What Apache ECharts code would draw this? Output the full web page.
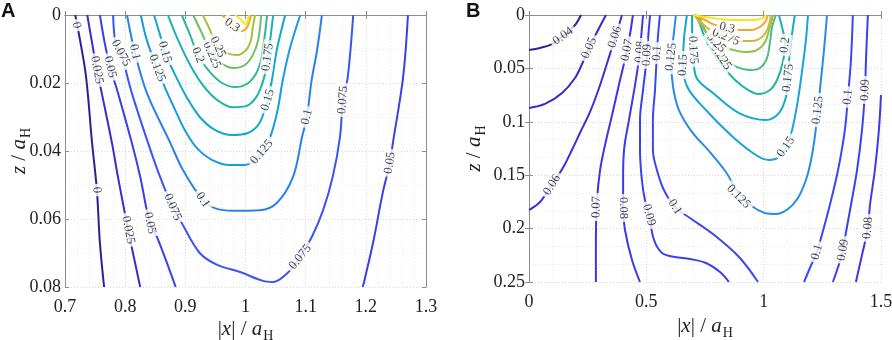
<!DOCTYPE html>
<html>
<head>
<meta charset="utf-8">
<script src="https://cdn.jsdelivr.net/npm/echarts@6/dist/echarts.min.js"></script>
<style>
  html, body { margin: 0; padding: 0; background: #fff; }
  #chart { width: 892px; height: 340px; }
</style>
</head>
<body>
<div id="chart"></div>
<script>
// ---- panel A contour lines, points are [|x|/aH, z/aH] ----
const a000 = [[0.717,0],[0.725,0.0074],[0.735,0.0182],[0.745,0.0376],[0.753,0.0515],[0.758,0.067],[0.765,0.08]];
const a025 = [[0.737,0],[0.745,0.0082],[0.753,0.0162],[0.761,0.0229],[0.778,0.0376],[0.788,0.0476],[0.805,0.0632],[0.825,0.08]];
const a050L = [[0.758,0],[0.766,0.0082],[0.775,0.0153],[0.788,0.0229],[0.811,0.0376],[0.825,0.0476],[0.841,0.0612],[0.853,0.0653],[0.884,0.08]];
const a050R = [[1.270,0],[1.262,0.0182],[1.245,0.0376],[1.240,0.0435],[1.228,0.0524],[1.212,0.067],[1.195,0.08]];
const a075 = [[0.780,0],[0.784,0.0082],[0.793,0.0112],[0.811,0.0229],[0.838,0.0376],[0.858,0.0476],[0.879,0.0565],[0.894,0.0612],[0.924,0.070],[0.953,0.0735],[0.991,0.0756],[1.029,0.0782],[1.046,0.0785],[1.069,0.076],[1.091,0.0712],[1.111,0.065],[1.129,0.0574],[1.145,0.0476],[1.157,0.0359],[1.162,0.025],[1.170,0.0182],[1.179,0]];
const a100 = [[0.803,0],[0.816,0.0109],[0.836,0.0229],[0.875,0.0376],[0.896,0.0456],[0.929,0.0544],[0.949,0.0568],[0.979,0.0576],[1.024,0.0574],[1.052,0.0553],[1.079,0.0476],[1.094,0.0359],[1.102,0.030],[1.110,0.0191],[1.119,0.0103],[1.127,0]];
const a125 = [[0.826,0],[0.836,0.0074],[0.853,0.0156],[0.868,0.0221],[0.883,0.0279],[0.899,0.0338],[0.919,0.0391],[0.944,0.0426],[0.974,0.0441],[0.999,0.0441],[1.016,0.0426],[1.027,0.0403],[1.037,0.0376],[1.046,0.0332],[1.054,0.0274],[1.062,0.0191],[1.074,0.0097],[1.091,0]];
const a150 = [[0.848,0],[0.858,0.0059],[0.866,0.0109],[0.883,0.0176],[0.903,0.0244],[0.924,0.030],[0.949,0.0338],[0.978,0.0353],[1.004,0.0347],[1.021,0.0324],[1.031,0.0285],[1.037,0.025],[1.044,0.0191],[1.052,0.0103],[1.066,0]];
const a175 = [[0.871,0],[0.888,0.0074],[0.908,0.0147],[0.929,0.0206],[0.953,0.025],[0.978,0.0271],[1.001,0.0268],[1.017,0.0244],[1.027,0.0206],[1.034,0.0162],[1.037,0.0124],[1.041,0.0074],[1.046,0]];
const a200 = [[0.894,0],[0.908,0.0059],[0.921,0.0118],[0.941,0.0168],[0.961,0.020],[0.983,0.0212],[1.002,0.0203],[1.017,0.0174],[1.026,0.0132],[1.031,0.0074],[1.036,0]];
const a225 = [[0.913,0],[0.929,0.0059],[0.944,0.0118],[0.961,0.0144],[0.979,0.0156],[0.999,0.0147],[1.012,0.0118],[1.021,0.0074],[1.026,0]];
const a250 = [[0.929,0],[0.941,0.0044],[0.954,0.0094],[0.969,0.0112],[0.986,0.0118],[1.001,0.0103],[1.009,0.0074],[1.012,0.0038],[1.016,0]];
const a300 = [[0.961,0],[0.978,0.0026],[0.994,0.0047],[1.002,0.0038],[1.007,0.0015],[1.009,0]];
const a325 = [[0.983,0],[0.993,0.0015],[1.001,0.0029],[1.004,0.0015],[1.006,0]];

// ---- panel B contour lines ----
const b040 = [[0,0.0328],[0.047,0.0309],[0.098,0.0272],[0.145,0.0197],[0.196,0.0094],[0.222,0]];
const b050 = [[0,0.0871],[0.068,0.0833],[0.141,0.073],[0.196,0.059],[0.230,0.044],[0.256,0.0309],[0.290,0.0159],[0.328,0]];
const b060 = [[0.396,0],[0.371,0.0187],[0.337,0.0421],[0.303,0.0655],[0.260,0.0908],[0.217,0.1105],[0.183,0.1264],[0.149,0.1414],[0.098,0.1592],[0.047,0.1751],[0,0.1826]];
const b070 = [[0.443,0],[0.430,0.0187],[0.418,0.0328],[0.388,0.0609],[0.354,0.0936],[0.324,0.1217],[0.303,0.1451],[0.290,0.1732],[0.285,0.2107],[0.285,0.25]];
const b080L = [[0.486,0],[0.477,0.0234],[0.473,0.0346],[0.452,0.0655],[0.426,0.0983],[0.405,0.1264],[0.401,0.1545],[0.401,0.1807],[0.409,0.2013],[0.439,0.2294],[0.473,0.25]];
const b080R = [[1.5,0.0749],[1.491,0.1077],[1.474,0.1451],[1.453,0.1779],[1.444,0.1994],[1.419,0.2247],[1.393,0.25]];
const b090L = [[0.516,0],[0.507,0.0234],[0.503,0.0375],[0.486,0.0702],[0.473,0.0983],[0.473,0.1264],[0.481,0.1545],[0.494,0.1732],[0.511,0.1873],[0.533,0.2107],[0.567,0.2228],[0.622,0.2266],[0.686,0.2285],[0.754,0.2322],[0.814,0.2407],[0.852,0.25]];
const b090R = [[1.444,0],[1.436,0.0421],[1.432,0.0702],[1.419,0.1077],[1.398,0.1451],[1.372,0.1779],[1.351,0.2032],[1.338,0.22],[1.317,0.236],[1.295,0.25]];
const b100L = [[0.558,0],[0.550,0.0187],[0.545,0.0356],[0.537,0.0702],[0.528,0.0983],[0.528,0.1264],[0.545,0.1451],[0.575,0.1639],[0.622,0.1798],[0.686,0.1901],[0.784,0.2051],[0.895,0.2266],[0.976,0.25]];
const b100R = [[1.380,0],[1.372,0.0421],[1.359,0.0768],[1.346,0.1077],[1.317,0.1451],[1.282,0.1779],[1.248,0.206],[1.227,0.2219],[1.197,0.2369],[1.172,0.25]];
const b125 = [[0.626,0],[0.614,0.0234],[0.605,0.0393],[0.614,0.0674],[0.639,0.089],[0.695,0.1096],[0.771,0.1283],[0.839,0.147],[0.890,0.1657],[0.950,0.1788],[1.006,0.1854],[1.052,0.1863],[1.104,0.1816],[1.146,0.1713],[1.180,0.1545],[1.202,0.1358],[1.219,0.1124],[1.231,0.089],[1.244,0.0609],[1.257,0.0328],[1.270,0]];
const b150 = [[0.673,0],[0.660,0.0234],[0.656,0.0468],[0.677,0.0684],[0.754,0.089],[0.869,0.1142],[0.967,0.1311],[1.023,0.1358],[1.065,0.133],[1.095,0.1236],[1.121,0.1077],[1.146,0.0796],[1.167,0.0468],[1.180,0.0234],[1.189,0]];
const b175 = [[0.695,0],[0.695,0.0187],[0.699,0.0328],[0.712,0.058],[0.784,0.073],[0.895,0.0918],[1.010,0.0983],[1.065,0.0918],[1.095,0.0768],[1.104,0.059],[1.112,0.0328],[1.133,0]];
const b200 = [[0.716,0],[0.737,0.014],[0.771,0.0309],[0.822,0.0468],[0.878,0.0609],[0.933,0.0702],[0.976,0.074],[1.027,0.0702],[1.057,0.0609],[1.082,0.044],[1.091,0.0281],[1.086,0.0187],[1.065,0]];
const b225 = [[0.720,0],[0.750,0.014],[0.784,0.0281],[0.818,0.0393],[0.878,0.0478],[0.942,0.0515],[0.984,0.0496],[1.014,0.0403],[1.027,0.0253],[1.035,0.0122],[1.052,0]];
const b250 = [[0.707,0],[0.733,0.0094],[0.763,0.0187],[0.797,0.0262],[0.856,0.0318],[0.920,0.0346],[0.971,0.0328],[1.006,0.0253],[1.023,0.014],[1.040,0]];
const b275 = [[0.703,0],[0.741,0.0084],[0.784,0.0159],[0.839,0.0206],[0.899,0.0243],[0.950,0.0243],[0.993,0.0206],[1.018,0.0122],[1.031,0]];
const b300 = [[0.703,0],[0.750,0.0047],[0.792,0.0094],[0.844,0.0122],[0.899,0.014],[0.950,0.014],[0.984,0.0112],[1.006,0.0066],[1.018,0]];
const b325 = [[0.699,0],[0.750,0.0019],[0.814,0.0037],[0.899,0.0047],[0.963,0.0047],[0.997,0.0028],[1.010,0]];

// level of every line
const contoursA = [[0,a000],[0.025,a025],[0.05,a050L],[0.05,a050R],[0.075,a075],[0.1,a100],[0.125,a125],[0.15,a150],[0.175,a175],[0.2,a200],[0.225,a225],[0.25,a250],[0.3,a300],[0.325,a325]];
const contoursB = [[0.04,b040],[0.05,b050],[0.06,b060],[0.07,b070],[0.08,b080L],[0.08,b080R],[0.09,b090L],[0.09,b090R],[0.1,b100L],[0.1,b100R],[0.125,b125],[0.15,b150],[0.175,b175],[0.2,b200],[0.225,b225],[0.25,b250],[0.275,b275],[0.3,b300],[0.325,b325]];

// inline labels: [level, x, z]
const labelsA = [
  [0,0.719,0.003],[0,0.753,0.0515],
  [0.025,0.753,0.0162],[0.025,0.805,0.0632],
  [0.05,0.775,0.0153],[0.05,0.841,0.0612],[0.05,1.240,0.0435],
  [0.075,0.793,0.0112],[0.075,0.879,0.0565],[0.075,1.091,0.0712],[0.075,1.162,0.025],
  [0.1,0.816,0.0109],[0.1,0.929,0.0544],[0.1,1.102,0.030],
  [0.125,0.853,0.0156],[0.125,1.027,0.0403],
  [0.15,0.866,0.0109],[0.15,1.037,0.025],
  [0.175,1.037,0.0124],
  [0.2,0.921,0.0118],
  [0.225,0.944,0.0118],
  [0.25,0.954,0.0094],
  [0.3,0.978,0.0030]
];
const labelsB = [
  [0.04,0.145,0.0197],
  [0.05,0.256,0.0309],
  [0.06,0.366,0.0206],[0.06,0.098,0.1592],
  [0.07,0.418,0.0328],[0.07,0.287,0.1798],
  [0.08,0.473,0.0346],[0.08,0.401,0.1807],[0.08,1.444,0.1994],
  [0.09,0.503,0.0375],[0.09,0.511,0.1873],[0.09,1.432,0.0702],[0.09,1.338,0.22],
  [0.1,0.545,0.0356],[0.1,0.622,0.1798],[0.1,1.359,0.0768],[0.1,1.227,0.2219],
  [0.125,0.605,0.0393],[0.125,0.893,0.170],[0.125,1.231,0.089],
  [0.15,0.656,0.0468],[0.15,1.095,0.1236],
  [0.175,0.699,0.0328],[0.175,1.104,0.059],
  [0.2,1.091,0.0281],
  [0.225,0.818,0.0393],
  [0.25,0.797,0.0262],
  [0.275,0.839,0.0206],
  [0.3,0.844,0.0122]
];

// colours (parula-like)
const colorsA = {0:'#2e1f96',0.025:'#3a2ccc',0.05:'#3b3fe6',0.075:'#3a55f0',0.1:'#2c80ee',0.125:'#1a9ae2',0.15:'#10a8cc',0.175:'#18b2b0',0.2:'#2eb894',0.225:'#70bf62',0.25:'#a8c23a',0.3:'#f5a52a',0.325:'#f7e81a'};
const colorsB = {0.04:'#34209f',0.05:'#3a28c4',0.06:'#3c2fd6',0.07:'#3c35e0',0.08:'#3c3ae8',0.09:'#3b40ee',0.1:'#3a48f2',0.125:'#2a8aea',0.15:'#1aa2dc',0.175:'#12acc4',0.2:'#1fb4a6',0.225:'#4cbc80',0.25:'#90c050',0.275:'#d8b434',0.3:'#f5a52a',0.325:'#f7e81a'};

const serif = "'Liberation Serif', 'Times New Roman', serif";
const chart = echarts.init(document.getElementById('chart'));

function fmt(v) { return String(+v.toFixed(3)); }

const nameStyle = {
  fontFamily: serif, fontSize: 21, color: '#222',
  rich: {
    i: { fontFamily: serif, fontSize: 21, fontStyle: 'italic', color: '#222' },
    s: { fontFamily: serif, fontSize: 14, color: '#222', padding: [13, 0, 0, 1] }
  }
};

function xAx(gi, min, max, step, name, gap) {
  return {
    type: 'value', gridIndex: gi, min: min, max: max, interval: step,
    name: name, nameLocation: 'middle', nameGap: gap, nameMoveOverlap: false, nameTextStyle: nameStyle,
    axisLine: { show: true, lineStyle: { color: '#8c8c8c', width: 1 } },
    axisTick: { show: true, inside: true, length: 4, lineStyle: { color: '#8c8c8c' } },
    axisLabel: { fontFamily: serif, fontSize: 18, color: '#222', margin: 11, formatter: fmt },
    splitLine: { show: true, lineStyle: { color: '#d6d6d6', type: [1, 2] } },
    minorTick: { show: false, splitNumber: 5 },
    minorSplitLine: { show: true, lineStyle: { color: '#ebebeb', type: [1, 2] } }
  };
}
function yAx(gi, max, step, minorN, gap) {
  return {
    type: 'value', gridIndex: gi, min: 0, max: max, interval: step, inverse: true,
    name: '{i|z} / {i|a}{s|H}', nameLocation: 'middle', nameGap: gap, nameMoveOverlap: false, nameTextStyle: nameStyle,
    axisLine: { show: true, lineStyle: { color: '#8c8c8c', width: 1 } },
    axisTick: { show: true, inside: true, length: 4, lineStyle: { color: '#8c8c8c' } },
    axisLabel: { fontFamily: serif, fontSize: 18, color: '#222', margin: 4, formatter: fmt },
    splitLine: { show: true, lineStyle: { color: '#d6d6d6', type: [1, 2] } },
    minorTick: { show: false, splitNumber: minorN },
    minorSplitLine: { show: true, lineStyle: { color: '#ebebeb', type: [1, 2] } }
  };
}
function boxX(gi, min, max, step) {
  return { type: 'value', gridIndex: gi, position: 'top', min: min, max: max, interval: step,
    axisLine: { show: true, lineStyle: { color: '#8c8c8c' } },
    axisTick: { show: true, inside: true, length: 4, lineStyle: { color: '#8c8c8c' } },
    axisLabel: { show: false }, splitLine: { show: false } };
}
function boxY(gi, max, step) {
  return { type: 'value', gridIndex: gi, position: 'right', min: 0, max: max, interval: step, inverse: true,
    axisLine: { show: true, lineStyle: { color: '#8c8c8c' } },
    axisTick: { show: true, inside: true, length: 4, lineStyle: { color: '#8c8c8c' } },
    axisLabel: { show: false }, splitLine: { show: false } };
}

const xName = '|{i|x}| / {i|a}{s|H}';
const xAxes = [xAx(0, 0.7, 1.3, 0.1, xName, 29), xAx(1, 0, 1.5, 0.5, xName, 31), boxX(0, 0.7, 1.3, 0.1), boxX(1, 0, 1.5, 0.5)];
const yAxes = [yAx(0, 0.08, 0.02, 2, 32), yAx(1, 0.25, 0.05, 3, 41), boxY(0, 0.08, 0.02), boxY(1, 0.25, 0.05)];

function lineSeries(list, idx, colors) {
  return list.map(function (c) {
    return {
      type: 'line', xAxisIndex: idx, yAxisIndex: idx, data: c[1],
      smooth: 0.35, showSymbol: false, symbol: 'none', silent: true, z: 2,
      lineStyle: { width: 2, color: colors[c[0]] }
    };
  });
}
const lines = lineSeries(contoursA, 0, colorsA).concat(lineSeries(contoursB, 1, colorsB));

chart.setOption({
  backgroundColor: '#fff',
  animation: false,
  grid: [
    { left: 65, top: 15, width: 361, height: 272, show: false, outerBoundsMode: 'none' },
    { left: 529, top: 15, width: 352, height: 267, show: false, outerBoundsMode: 'none' }
  ],
  xAxis: xAxes,
  yAxis: yAxes,
  graphic: [
    { type: 'text', left: 1, top: 1, style: { text: 'A', font: "bold 20px 'Liberation Sans', Arial, sans-serif", fill: '#111' } },
    { type: 'text', left: 466, top: 1, style: { text: 'B', font: "bold 20px 'Liberation Sans', Arial, sans-serif", fill: '#111' } }
  ],
  series: lines
});

// rotate every inline label along its contour
function labelAngle(idx, list, lab) {
  const finder = { xAxisIndex: idx, yAxisIndex: idx };
  const P = chart.convertToPixel(finder, [lab[1], lab[2]]);
  let best = Infinity, ang = 0;
  list.forEach(function (c) {
    if (c[0] !== lab[0]) return;
    const pts = c[1];
    for (let i = 0; i < pts.length - 1; i++) {
      const A = chart.convertToPixel(finder, pts[i]);
      const B = chart.convertToPixel(finder, pts[i + 1]);
      const dx = B[0] - A[0], dy = B[1] - A[1];
      const L = dx * dx + dy * dy || 1;
      let t = ((P[0] - A[0]) * dx + (P[1] - A[1]) * dy) / L;
      t = Math.max(0, Math.min(1, t));
      const ex = A[0] + t * dx - P[0], ey = A[1] + t * dy - P[1];
      const d = ex * ex + ey * ey;
      if (d < best) { best = d; ang = Math.atan2(dy, dx); }
    }
  });
  let deg = -ang * 180 / Math.PI;
  if (deg > 90) deg -= 180;
  if (deg < -90) deg += 180;
  return deg;
}
function labelSeries(labs, idx, list) {
  return {
    type: 'scatter', xAxisIndex: idx, yAxisIndex: idx, symbolSize: 0, silent: true, z: 5,
    data: labs.map(function (l) {
      return { name: String(l[0]), value: [l[1], l[2]], label: { rotate: labelAngle(idx, list, l) } };
    }),
    label: {
      show: true, position: 'inside', formatter: '{b}',
      fontFamily: serif, fontSize: 12.5, color: '#111',
      backgroundColor: '#fff', padding: [0, 3]
    }
  };
}

chart.setOption({ series: lines.concat([labelSeries(labelsA, 0, contoursA), labelSeries(labelsB, 1, contoursB)]) });
</script>
</body>
</html>
